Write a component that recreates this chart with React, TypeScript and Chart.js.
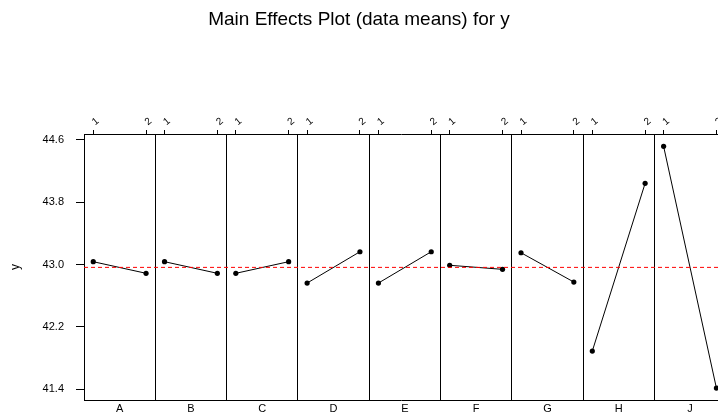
import React, { useEffect, useRef } from "react";
import { Chart, registerables } from "chart.js";

Chart.register(...registerables);

// ---- data ----
const factors = ["A", "B", "C", "D", "E", "F", "G", "H", "J"];
const levels = [1, 2];
const level1Means = [43.038, 43.038, 42.889, 42.764, 42.764, 42.992, 43.153, 41.891, 44.519];
const level2Means = [42.889, 42.889, 43.038, 43.166, 43.166, 42.94, 42.777, 44.044, 41.416];
const grandMean = 42.965;
const yTicks = [41.4, 42.2, 43.0, 43.8, 44.6];
const titleText = "Main Effects Plot (data means) for y";
const yLabel = "y";

// ---- layout constants (panel geometry in x-scale units) ----
const PANEL = 1.35; // width of one factor panel
const PAD = 0.175; // gap between panel edge and level 1
const X_MAX = 12.005; // visible part of the last panel
const Y_MIN = 41.263;
const Y_MAX = 44.677;
const FONT = "'Liberation Sans', Arial, Helvetica, sans-serif";

const levelX = (panel: number, level: number) => panel * PANEL + PAD + (level - 1);

const noPad = (s: any) => {
  s.paddingLeft = 0;
  s.paddingRight = 0;
  s.paddingTop = 0;
  s.paddingBottom = 0;
};

export default function App() {
  const ref = useRef<HTMLCanvasElement | null>(null);

  useEffect(() => {
    if (!ref.current) return;
    const means = [level1Means, level2Means];
    const factorSets = factors.map((f, i) => ({
      label: f,
      data: levels.map((L, k) => ({ x: levelX(i, L), y: means[k][i] })),
      borderColor: "#000",
      backgroundColor: "#000",
      borderWidth: 1,
      pointRadius: 2.6,
      pointBorderWidth: 0,
      pointBackgroundColor: "#000",
      clip: false as any,
    }));
    const meanSet = {
      label: "mean",
      data: [
        { x: 0, y: grandMean },
        { x: X_MAX, y: grandMean },
      ],
      borderColor: "#ff0000",
      borderWidth: 1,
      borderDash: [4, 3],
      pointRadius: 0,
    };

    const chart = new Chart(ref.current, {
      type: "line",
      data: { datasets: [meanSet as any, ...factorSets] },
      options: {
        animation: false,
        responsive: false,
        devicePixelRatio: 1,
        layout: { padding: 0, autoPadding: false },
        plugins: {
          legend: { display: false },
          tooltip: { enabled: false },
          title: {
            display: true,
            text: titleText,
            color: "#000",
            font: { family: FONT, size: 19, weight: "normal" as any, lineHeight: 1.2 },
            padding: { top: 8, bottom: 73.2 },
          },
        },
        scales: {
          x: {
            type: "linear",
            position: "bottom",
            min: 0,
            max: X_MAX,
            afterBuildTicks: (s: any) => {
              s.ticks = factors.map((_, i) => ({ value: (i + 0.5) * PANEL }));
            },
            ticks: {
              autoSkip: false,
              maxRotation: 0,
              minRotation: 0,
              padding: 2,
              color: "#000",
              font: { family: FONT, size: 11 },
              callback: (_v: any, idx: number) => factors[idx],
            },
            grid: { display: false, drawTicks: false },
            border: { display: true, color: "#000", width: 1 },
            afterFit: (s: any) => {
              s.height = 14;
              noPad(s);
            },
          },
          xg: {
            type: "linear",
            position: "bottom",
            min: 0,
            max: X_MAX,
            afterBuildTicks: (s: any) => {
              s.ticks = factors.slice(1).map((_, i) => ({ value: (i + 1) * PANEL }));
            },
            ticks: { display: false },
            grid: { color: "#000", lineWidth: 1, drawTicks: false },
            border: { display: false },
            afterFit: (s: any) => {
              s.height = 0;
              noPad(s);
            },
          },
          xTop: {
            type: "linear",
            position: "top",
            min: 0,
            max: X_MAX,
            afterBuildTicks: (s: any) => {
              s.ticks = factors.flatMap((_, i) => levels.map((L) => ({ value: levelX(i, L) })));
            },
            ticks: {
              autoSkip: false,
              minRotation: 40,
              maxRotation: 40,
              padding: 2,
              labelOffset: 8,
              color: "#000",
              font: { family: FONT, size: 10 },
              callback: (_v: any, idx: number) => String(levels[idx % levels.length]),
            },
            grid: { drawOnChartArea: false, tickLength: 4, color: "#000" },
            border: { display: true, color: "#000", width: 1 },
            afterFit: (s: any) => {
              s.height = 30;
              noPad(s);
            },
          },
          y: {
            type: "linear",
            position: "left",
            min: Y_MIN,
            max: Y_MAX,
            afterBuildTicks: (s: any) => {
              s.ticks = yTicks.map((v) => ({ value: v }));
            },
            ticks: {
              padding: 12,
              color: "#000",
              font: { family: FONT, size: 11 },
              callback: (v: any) => Number(v).toFixed(1),
            },
            grid: { drawOnChartArea: false, tickLength: 8, color: "#000" },
            border: { display: true, color: "#000", width: 1 },
            title: {
              display: true,
              text: yLabel,
              color: "#000",
              font: { family: FONT, size: 12 },
              padding: { top: 8, bottom: 0 },
            },
            afterFit: (s: any) => {
              s.width = 84;
              noPad(s);
            },
          },
        },
      } as any,
    });
    return () => chart.destroy();
  }, []);

  return (
    <div
      style={{
        position: "absolute",
        left: 0,
        top: 0,
        width: 718,
        height: 414,
        overflow: "hidden",
        background: "#fff",
      }}
    >
      <canvas ref={ref} width={718} height={414} style={{ display: "block" }} />
    </div>
  );
}
